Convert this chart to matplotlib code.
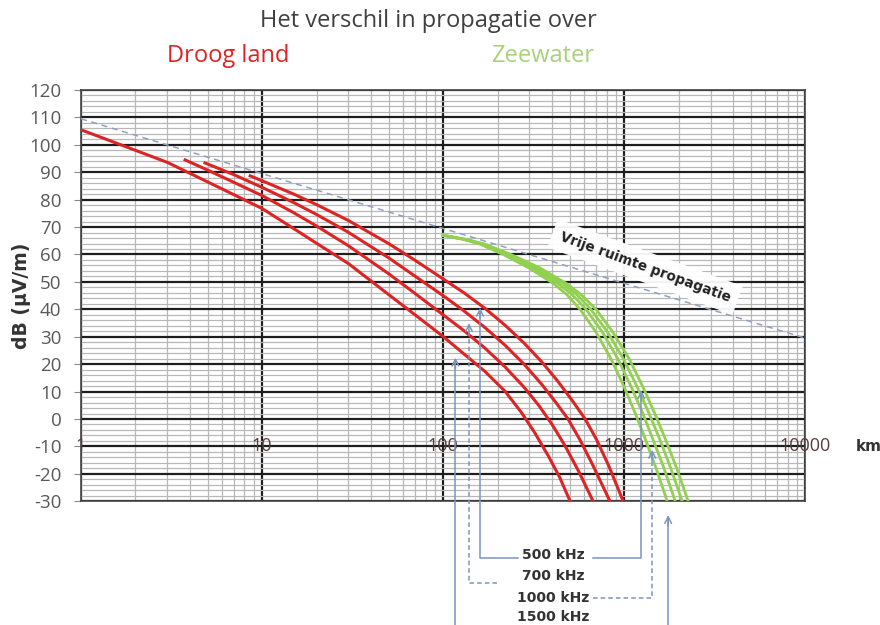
import matplotlib.pyplot as plt
from matplotlib.ticker import LogLocator, MultipleLocator, NullFormatter

OUTPUT_FILE = "out.png"
FIGURE_SIZE = (8.8, 6.25)
DPI = 100

RED = "#dd2424"
GREEN = "#92d050"
ARROW_BLUE = "#7b96bd"
FREE_SPACE_BLUE = "#8ea2c0"

# droog land (km, dB uV/m)
LAND_A_KM = [1, 2, 3, 5, 7, 10, 15, 20, 30, 50, 70, 100, 130, 170, 220, 270, 320, 380, 440, 503]
LAND_A_DB = [105.5, 98, 93.6, 86.5, 81.8, 76.8, 69.4, 64.1, 56.7, 45.4, 38, 30.1, 23.8, 17.4,
             10.1, 2.5, -4.9, -13.3, -21.2, -30]
LAND_B_KM = [3.76, 5, 7, 10, 15, 20, 30, 50, 70, 100, 130, 170, 220, 280, 340, 400, 470, 560, 674]
LAND_B_DB = [94.5, 90.8, 86.3, 81.5, 75.2, 70.4, 63.2, 53, 45.8, 38, 32.3, 25.9, 19, 11.6, 4.7,
             -2, -9.6, -19, -30]
LAND_C_KM = [4.84, 7, 10, 15, 20, 30, 50, 70, 100, 130, 170, 220, 280, 350, 420, 490, 570, 670, 835]
LAND_C_DB = [93.4, 89.1, 84.5, 78.9, 74.6, 68.1, 58.8, 52.1, 45, 39.5, 33.4, 26.9, 20, 12.7, 6,
             0, -7.6, -16.7, -30]
LAND_D_KM = [8.6, 10, 15, 20, 30, 50, 70, 100, 130, 170, 220, 280, 350, 430, 520, 609, 700, 820, 988]
LAND_D_DB = [88.7, 86.9, 82, 78.2, 72.4, 64, 57.9, 51.1, 46.1, 40.4, 34.2, 27.7, 20.9, 13.8, 6.5,
             0, -7.2, -16.9, -30]

# zeewater (same dB levels for all four curves)
SEA_DB = [67, 65.5, 63.8, 60, 55, 49.5, 45.5, 40, 31.6, 21.7, 11.7, 2.2, -6.8, -17.9, -30]
SEA_A_KM = [100, 130, 160, 215, 300, 405, 480, 571, 700, 850, 1000, 1150, 1300, 1500, 1729]
SEA_B_KM = [100, 131, 163, 223, 315, 429, 514, 616, 760, 927, 1095, 1265, 1430, 1658, 1914]
SEA_C_KM = [100, 133, 166, 230, 330, 454, 545, 655, 812, 995, 1180, 1369, 1560, 1808, 2092]
SEA_D_KM = [100, 134, 170, 237, 345, 478, 576, 700, 868, 1071, 1270, 1472, 1677, 1950, 2258]

FREE_SPACE_KM = [1, 10, 100, 1000, 10000]
FREE_SPACE_DB = [109.5, 89.5, 69.5, 49.5, 29.5]

X_TICK_LABELS = ["1", "10", "100", "1000", "10000"]
X_TICK_VALUES = [1, 10, 100, 1000, 10000]

FREQ_LABELS = ["500 kHz", "700 kHz", "1000 kHz", "1500 kHz"]
FREQ_LABEL_DB = [-49.6, -57.3, -65.3, -72.3]

# (x of vertical, y of arrow tip, y of bottom, x of horizontal end or None, dashed)
ARROWS = [
    (160, 41.6, -50.7, 260, False),
    (1242, 11.5, -50.7, 674, False),
    (139, 36.0, -59.9, 199, True),
    (1429, -10.2, -65.3, 674, True),
    (117, 23.4, -76.0, None, False),
    (1750, -34.0, -76.0, None, False),
]


def draw_grid(ax) -> None:
    ax.set_xscale("log")
    ax.set_xlim(1, 10000)
    ax.set_ylim(-30, 120)
    ax.xaxis.set_major_locator(LogLocator(base=10))
    ax.xaxis.set_minor_locator(LogLocator(base=10, subs=range(2, 10)))
    ax.xaxis.set_minor_formatter(NullFormatter())
    ax.yaxis.set_major_locator(MultipleLocator(10))
    ax.yaxis.set_minor_locator(MultipleLocator(2))
    ax.set_axisbelow(True)
    ax.grid(which="minor", color="#b8b8b8", linewidth=0.9)
    ax.grid(which="major", color="#1e1e1e", linewidth=1.6)
    ax.tick_params(axis="x", which="both", length=0, labelbottom=False)
    ax.tick_params(axis="y", which="major", length=5, color="#888888",
                   labelsize=13.5, labelcolor="#595959", pad=9)
    ax.tick_params(axis="y", which="minor", length=0)
    for label in ax.get_yticklabels():
        label.set_family("Open Sans")
    for spine in ax.spines.values():
        spine.set_color("#444444")
        spine.set_linewidth(1.2)

    for value, label in zip(X_TICK_VALUES, X_TICK_LABELS):
        ax.text(value, -10, label, ha="center", va="center", fontsize=13,
                color="#5a3c3c", family="Open Sans")
    ax.text(19000, -10, "km", ha="left", va="center", fontsize=11,
            fontweight="bold", color="#333333", clip_on=False)


def draw_curves(ax) -> None:
    ax.plot(FREE_SPACE_KM, FREE_SPACE_DB, color=FREE_SPACE_BLUE,
            linewidth=1.1, linestyle=(0, (4, 3)), zorder=3)
    for km, db in [(LAND_A_KM, LAND_A_DB), (LAND_B_KM, LAND_B_DB),
                   (LAND_C_KM, LAND_C_DB), (LAND_D_KM, LAND_D_DB)]:
        ax.plot(km, db, color=RED, linewidth=2.2, zorder=4,
                solid_joinstyle="round")
    for km in [SEA_A_KM, SEA_B_KM, SEA_C_KM, SEA_D_KM]:
        ax.plot(km, SEA_DB, color=GREEN, linewidth=2.0, zorder=4,
                solid_joinstyle="round")

    ax.text(1306, 55.5, "Vrije ruimte propagatie", rotation=-20,
            rotation_mode="anchor", ha="center", va="center", fontsize=9.8,
            fontweight="bold", color="#222222", zorder=5,
            bbox=dict(boxstyle="square,pad=0.6", facecolor="white",
                      edgecolor="none", alpha=0.95))


def draw_arrows(ax) -> None:
    for x, tip, bottom, x_end, dashed in ARROWS:
        style = (0, (3, 2)) if dashed else "-"
        if x_end is not None:
            ax.plot([x_end, x, x], [bottom, bottom, tip - 3], color=ARROW_BLUE,
                    linewidth=1.1, linestyle=style, clip_on=False, zorder=5)
        else:
            ax.plot([x, x], [bottom, tip - 3], color=ARROW_BLUE,
                    linewidth=1.1, linestyle=style, clip_on=False, zorder=5)
        ax.annotate("", xy=(x, tip), xytext=(x, tip - 6),
                    arrowprops=dict(arrowstyle="->", color=ARROW_BLUE,
                                    linewidth=1.1, mutation_scale=12),
                    annotation_clip=False, zorder=5)

    for label, y in zip(FREQ_LABELS, FREQ_LABEL_DB):
        ax.text(405, y, label, ha="center", va="center", fontsize=10,
                fontweight="bold", color="#333333", clip_on=False)


def make_chart() -> None:
    plt.rcParams["axes.unicode_minus"] = False
    fig = plt.figure(figsize=FIGURE_SIZE, dpi=DPI)
    ax = fig.add_axes([0.092, 0.198, 0.823, 0.658])

    draw_grid(ax)
    draw_curves(ax)
    draw_arrows(ax)

    ax.set_ylabel("dB (µV/m)", fontsize=13.5, fontweight="bold",
                  color="#333333", labelpad=-1)

    fig.text(0.487, 0.966, "Het verschil in propagatie over", ha="center",
             va="center", fontsize=17, color="#404040", family="Open Sans")
    fig.text(0.259, 0.910, "Droog land", ha="center", va="center",
             fontsize=17, color=RED, family="Open Sans")
    fig.text(0.617, 0.910, "Zeewater", ha="center", va="center",
             fontsize=17, color="#a6d27a", family="Open Sans")

    fig.savefig(OUTPUT_FILE, dpi=DPI)


if __name__ == "__main__":
    make_chart()
